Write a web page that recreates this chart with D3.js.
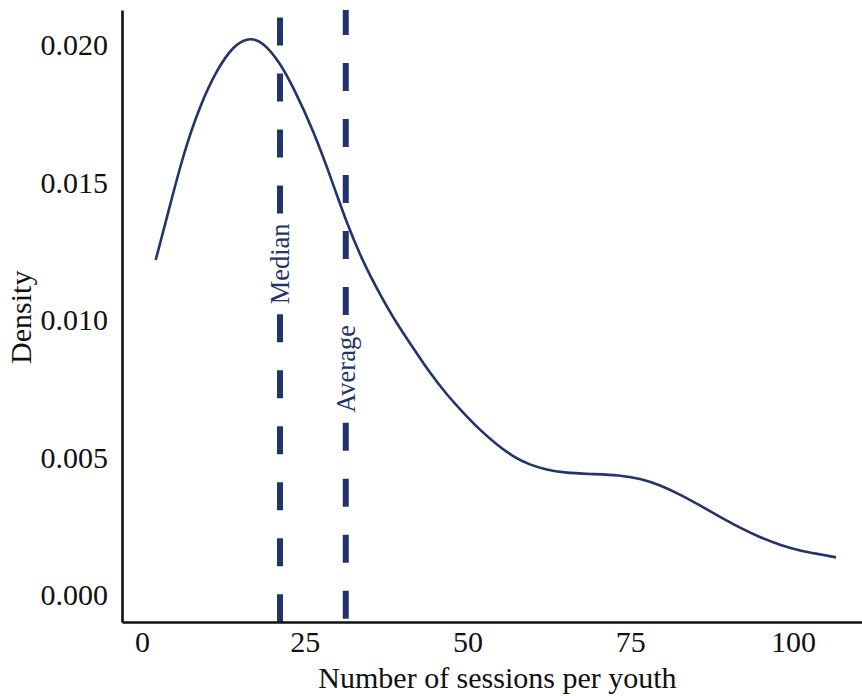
<!DOCTYPE html>
<html>
<head>
<meta charset="utf-8">
<script src="https://cdn.jsdelivr.net/npm/d3@7"></script>
<style>
  body { margin: 0; background: #fff; }
  svg { display: block; font-family: 'Liberation Serif', 'Times New Roman', serif; }
</style>
</head>
<body>
<svg id="chart"></svg>
<script>
// density curve (sessions, density)
const sessions = [2.1, 3.8, 6.3, 8.9, 11.5, 14.0, 16.3, 18.6, 21.2, 23.2, 26.3, 29.4, 31.4, 34.0,
  36.6, 39.1, 41.7, 44.2, 46.8, 49.4, 51.9, 54.5, 57.0, 59.6, 62.2, 64.7, 68.8, 73.4, 76.5,
  79.6, 82.6, 85.7, 88.8, 91.9, 94.9, 98.0, 101.1, 104.2, 106.6];
const density = [0.01218, 0.01370, 0.01600, 0.01780, 0.01910, 0.01996, 0.02028, 0.02012,
  0.01935, 0.01848, 0.01691, 0.01492, 0.01355, 0.01208, 0.01091, 0.00988, 0.00897, 0.00808,
  0.00729, 0.00661, 0.00600, 0.00547, 0.00503, 0.00473, 0.00455, 0.00445, 0.00440, 0.00436,
  0.00424, 0.00400, 0.00366, 0.00326, 0.00284, 0.00244, 0.00210, 0.00182, 0.00161, 0.00148,
  0.00137];

const refNames = ['Median', 'Average'];
const refValues = [21.2, 31.3];
const refLabelDensity = [0.01204, 0.00822];

const xTicks = [0, 25, 50, 75, 100];
const yTicks = [0, 0.005, 0.01, 0.015, 0.02];

const W = 862, H = 696;
const margin = { top: 10, right: 0, bottom: 74, left: 122 };
const NAVY = '#23346b';

const svg = d3.select('#chart').attr('width', W).attr('height', H);

const x = d3.scaleLinear().domain([-3.07, 110.6]).range([margin.left, W - margin.right]);
const y = d3.scaleLinear().domain([-0.00098, 0.02127]).range([H - margin.bottom, margin.top]);

const points = sessions.map((s, i) => ({ x: s, y: density[i] }));

// reference lines (dashes start at the label box on each side)
const refs = refNames.map((name, i) => ({ name, value: refValues[i], labelY: refLabelDensity[i] }));
const refG = svg.append('g');
refs.forEach((d) => {
  const g = refG.append('g');
  const label = g
    .append('text')
    .attr('transform', `translate(${x(d.value)},${y(d.labelY)}) rotate(-90)`)
    .attr('text-anchor', 'middle')
    .attr('dy', '0.35em')
    .attr('font-size', '26.5px')
    .attr('fill', NAVY)
    .text(d.name);
  const half = label.node().getComputedTextLength() / 2 + 10;
  const segs = [
    [y(d.labelY) - half, y.range()[1]],
    [y(d.labelY) + half, y.range()[0]],
  ];
  g.selectAll('line')
    .data(segs)
    .enter()
    .append('line')
    .attr('x1', x(d.value))
    .attr('x2', x(d.value))
    .attr('y1', (s) => s[0])
    .attr('y2', (s) => s[1])
    .attr('stroke', NAVY)
    .attr('stroke-width', 6)
    .attr('stroke-dasharray', '28,28');
});

// density curve
const line = d3
  .line()
  .x((d) => x(d.x))
  .y((d) => y(d.y))
  .curve(d3.curveBasis);

svg
  .append('path')
  .datum(points)
  .attr('d', line)
  .attr('fill', 'none')
  .attr('stroke', NAVY)
  .attr('stroke-width', 2.6);

// axes
const xAxis = svg
  .append('g')
  .attr('transform', `translate(0,${H - margin.bottom})`)
  .call(d3.axisBottom(x).tickValues(xTicks).tickSize(0).tickPadding(9));
const yAxis = svg
  .append('g')
  .attr('transform', `translate(${margin.left},0)`)
  .call(d3.axisLeft(y).tickValues(yTicks).tickFormat(d3.format('.3f')).tickSize(0).tickPadding(14));

[xAxis, yAxis].forEach((a) => {
  a.attr('font-family', null).attr('font-size', null);
  a.select('.domain').attr('stroke', '#111').attr('stroke-width', 2.6);
  a.selectAll('text').attr('font-size', '30px').attr('fill', '#111');
});

svg
  .append('text')
  .attr('x', (x(0) + x(100)) / 2 + 30)
  .attr('y', 688)
  .attr('text-anchor', 'middle')
  .attr('font-size', '30px')
  .attr('fill', '#111')
  .text('Number of sessions per youth');

svg
  .append('text')
  .attr('transform', `translate(31,${y(0.0101)}) rotate(-90)`)
  .attr('text-anchor', 'middle')
  .attr('font-size', '30px')
  .attr('fill', '#111')
  .text('Density');
</script>
</body>
</html>
